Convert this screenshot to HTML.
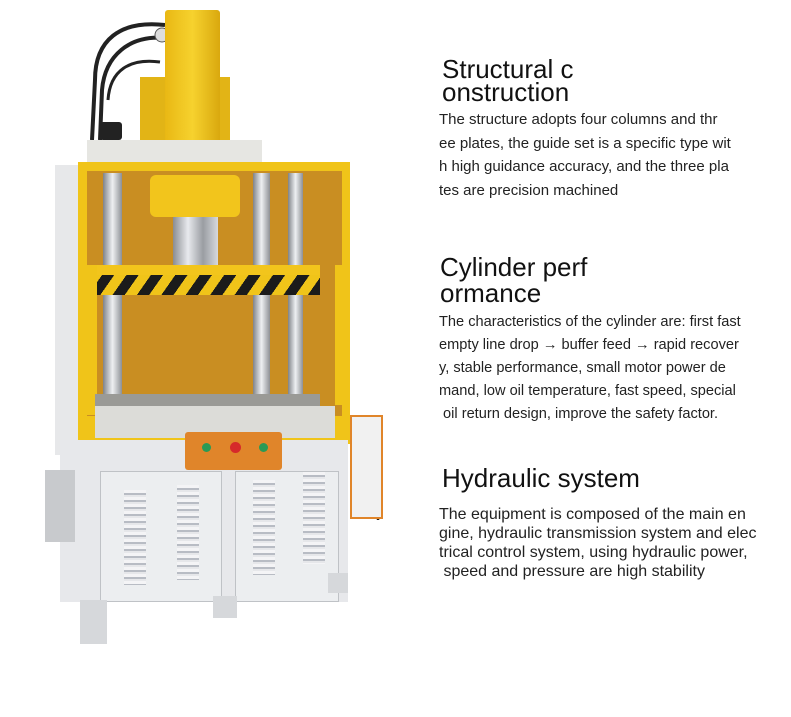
<!DOCTYPE html>
<html><head><meta charset="utf-8"><style>
body{margin:0;width:791px;height:717px;background:#fff;position:relative;overflow:hidden;font-family:"Liberation Sans","Noto Sans CJK SC",sans-serif;color:#111}
.a{position:absolute}
.h{position:absolute;left:442px;font-size:26px;line-height:25px;white-space:nowrap;color:#111}
.p{position:absolute;left:439px;font-size:15px;white-space:nowrap;color:#222}
.vent{position:absolute;width:22px;background:repeating-linear-gradient(#f4f4f6 0 3px,#b8bcc4 3px 5px,#e6e7ea 5px 7px)}
</style></head><body>
<svg class="a" style="left:0;top:0" width="420" height="717">
<path d="M165 25 C120 20 95 40 95 80 L92 140" stroke="#222" stroke-width="4" fill="none"/>
<path d="M165 38 C130 35 105 55 102 90 L100 140" stroke="#222" stroke-width="4" fill="none"/>
<path d="M160 62 C130 58 110 70 108 100" stroke="#222" stroke-width="3" fill="none"/>
<circle cx="162" cy="35" r="7" fill="#ddd" stroke="#555"/>
<path d="M350 420 C375 420 382 440 380 480 L378 520" stroke="#222" stroke-width="2.5" fill="none"/>
</svg>
<div class="a" style="left:140px;top:77px;width:90px;height:65px;background:#e2b416"></div>
<div class="a" style="left:165px;top:10px;width:55px;height:136px;background:linear-gradient(90deg,#e9b814,#f6d22e 50%,#d9a80e);border-radius:3px"></div>
<div class="a" style="left:100px;top:122px;width:22px;height:18px;background:#222;border-radius:3px"></div>
<div class="a" style="left:55px;top:165px;width:25px;height:290px;background:#e7e8ea"></div>
<div class="a" style="left:87px;top:140px;width:175px;height:28px;background:#e6e6e2"></div>
<div class="a" style="left:78px;top:162px;width:272px;height:282px;background:#f0c419"></div>
<div class="a" style="left:87px;top:171px;width:255px;height:245px;background:#c98e22"></div>
<div class="a" style="left:150px;top:175px;width:90px;height:42px;background:#f2c51c;border-radius:6px"></div>
<div class="a" style="left:173px;top:217px;width:45px;height:50px;background:linear-gradient(90deg,#8a8d92,#e8eaee,#9a9da2,#d7d9dd)"></div>
<div class="a" style="left:103px;top:173px;width:19px;height:240px;background:linear-gradient(90deg,#7f8388,#eef0f2,#8d9095)"></div>
<div class="a" style="left:253px;top:173px;width:17px;height:240px;background:linear-gradient(90deg,#7f8388,#eef0f2,#8d9095)"></div>
<div class="a" style="left:288px;top:173px;width:15px;height:240px;background:linear-gradient(90deg,#7f8388,#eef0f2,#8d9095)"></div>
<div class="a" style="left:97px;top:265px;width:223px;height:10px;background:#f2c51c"></div>
<div class="a" style="left:97px;top:275px;width:223px;height:20px;background:repeating-linear-gradient(-55deg,#1b1b1b 0 10px,#f0c419 10px 20px)"></div>
<div class="a" style="left:87px;top:265px;width:10px;height:150px;background:#f0c419"></div>
<div class="a" style="left:335px;top:265px;width:8px;height:140px;background:#f0c419"></div>
<div class="a" style="left:95px;top:394px;width:225px;height:12px;background:#9a9a96"></div>
<div class="a" style="left:95px;top:406px;width:240px;height:32px;background:#dcdcd8"></div>
<div class="a" style="left:60px;top:440px;width:288px;height:162px;background:#e7e8eb"></div>
<div class="a" style="left:100px;top:471px;width:120px;height:129px;background:#eceef0;border:1px solid #bfc2c6"></div>
<div class="a" style="left:235px;top:471px;width:102px;height:129px;background:#eceef0;border:1px solid #bfc2c6"></div>
<div class="vent" style="left:124px;top:490px;height:95px"></div>
<div class="vent" style="left:177px;top:485px;height:95px"></div>
<div class="vent" style="left:253px;top:480px;height:95px"></div>
<div class="vent" style="left:303px;top:472px;height:92px"></div>
<div class="a" style="left:185px;top:432px;width:97px;height:38px;background:#e0852a;border-radius:3px"></div>
<div class="a" style="left:202px;top:443px;width:9px;height:9px;border-radius:50%;background:#2a9a55"></div>
<div class="a" style="left:230px;top:442px;width:11px;height:11px;border-radius:50%;background:#d62a2a"></div>
<div class="a" style="left:259px;top:443px;width:9px;height:9px;border-radius:50%;background:#2a9a55"></div>
<div class="a" style="left:350px;top:415px;width:33px;height:104px;background:#f1f1f1;border:2px solid #e0852a;box-sizing:border-box"></div>
<div class="a" style="left:45px;top:470px;width:30px;height:72px;background:#c8cacd"></div>
<div class="a" style="left:80px;top:600px;width:27px;height:44px;background:#d6d8db"></div>
<div class="a" style="left:213px;top:596px;width:24px;height:22px;background:#d6d8db"></div>
<div class="a" style="left:328px;top:573px;width:20px;height:20px;background:#d6d8db"></div>
<div class="h" style="top:57px">Structural c</div>
<div class="h" style="top:80px">onstruction</div>
<div class="p" style="top:111px">The structure adopts four columns and thr</div>
<div class="p" style="top:135px">ee plates, the guide set is a specific type wit</div>
<div class="p" style="top:158px">h high guidance accuracy, and the three pla</div>
<div class="p" style="top:182px">tes are precision machined</div>
<div class="h" style="top:255px;left:440px">Cylinder perf</div>
<div class="h" style="top:281px;left:440px">ormance</div>
<div class="p" style="top:314px;font-size:14.6px">The characteristics of the cylinder are: first fast</div>
<div class="p" style="top:337px;font-size:14.6px">empty line drop → buffer feed → rapid recover</div>
<div class="p" style="top:360px;font-size:14.6px">y, stable performance, small motor power de</div>
<div class="p" style="top:383px;font-size:14.6px">mand, low oil temperature, fast speed, special</div>
<div class="p" style="top:406px;font-size:14.6px">&nbsp;oil return design, improve the safety factor.</div>
<div class="h" style="top:466px">Hydraulic system</div>
<div class="p" style="top:506px;font-size:16px">The equipment is composed of the main en</div>
<div class="p" style="top:525px;font-size:16px">gine, hydraulic transmission system and elec</div>
<div class="p" style="top:544px;font-size:16px">trical control system, using hydraulic power,</div>
<div class="p" style="top:563px;font-size:16px">&nbsp;speed and pressure are high stability</div>
</body></html>
